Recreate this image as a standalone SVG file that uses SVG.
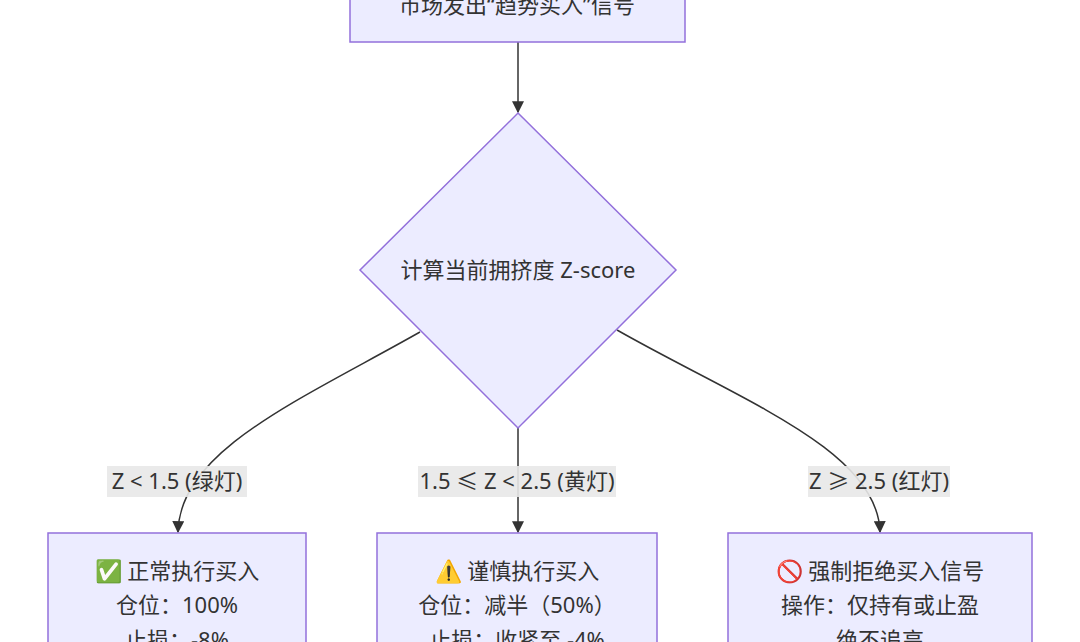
<svg xmlns="http://www.w3.org/2000/svg" width="1080" height="642" viewBox="0 0 1080 642">
<style>
.n{fill:#ECECFF;stroke:#9370DB;stroke-width:1.5}
.t{font-family:"Noto Sans","Noto Sans CJK SC",sans-serif;font-size:22px;fill:#333;text-anchor:middle}
.e{fill:none;stroke:#333;stroke-width:1.5;marker-end:url(#a)}
.lb{fill:#e8e8e8;opacity:0.9}
</style>
<defs><marker id="a" viewBox="0 0 10 10" refX="9" refY="5" markerWidth="8" markerHeight="8" orient="auto"><path d="M0,0L10,5L0,10z" fill="#333"/></marker></defs>
<rect width="1080" height="642" fill="#fff"/>
<g id="connectors">
<path class="e" d="M518,42V112"/>
<path class="e" d="M420,332C300,400 180,450 178,532"/>
<path class="e" d="M518,428V532"/>
<path class="e" d="M617,330C740,400 878,450 880,532"/>
<rect class="lb" x="107" y="466" width="140" height="31"/>
<text class="t" x="177" y="489">Z &lt; 1.5 (绿灯)</text>
<rect class="lb" x="418" y="466" width="198" height="31"/>
<text class="t" x="517" y="489">1.5 ≤ Z &lt; 2.5 (黄灯)</text>
<rect class="lb" x="808" y="466" width="142" height="31"/>
<text class="t" x="879" y="489">Z ≥ 2.5 (红灯)</text>
</g>
<g id="start"><rect class="n" x="350" y="-20" width="335" height="62"/><text class="t" x="517" y="13">市场发出“趋势买入”信号</text></g>
<g id="calc"><path class="n" d="M518,113L676,270L518,428L360,270z"/><text class="t" x="518" y="278">计算当前拥挤度 Z-score</text></g>
<g id="green"><rect class="n" x="48" y="533" width="258" height="130"/>
<text class="t" x="177" y="579">✅ 正常执行买入</text><text class="t" x="177" y="613">仓位：100%</text><text class="t" x="177" y="648">止损：-8%</text></g>
<g id="yellow"><rect class="n" x="377" y="533" width="280" height="130"/>
<text class="t" x="517" y="579">⚠️ 谨慎执行买入</text><text class="t" x="517" y="613">仓位：减半（50%）</text><text class="t" x="517" y="648">止损：收紧至 -4%</text></g>
<g id="red"><rect class="n" x="728" y="533" width="304" height="130"/>
<text class="t" x="880" y="579">🚫 强制拒绝买入信号</text><text class="t" x="880" y="613">操作：仅持有或止盈</text><text class="t" x="880" y="648">绝不追高</text></g>
</svg>
